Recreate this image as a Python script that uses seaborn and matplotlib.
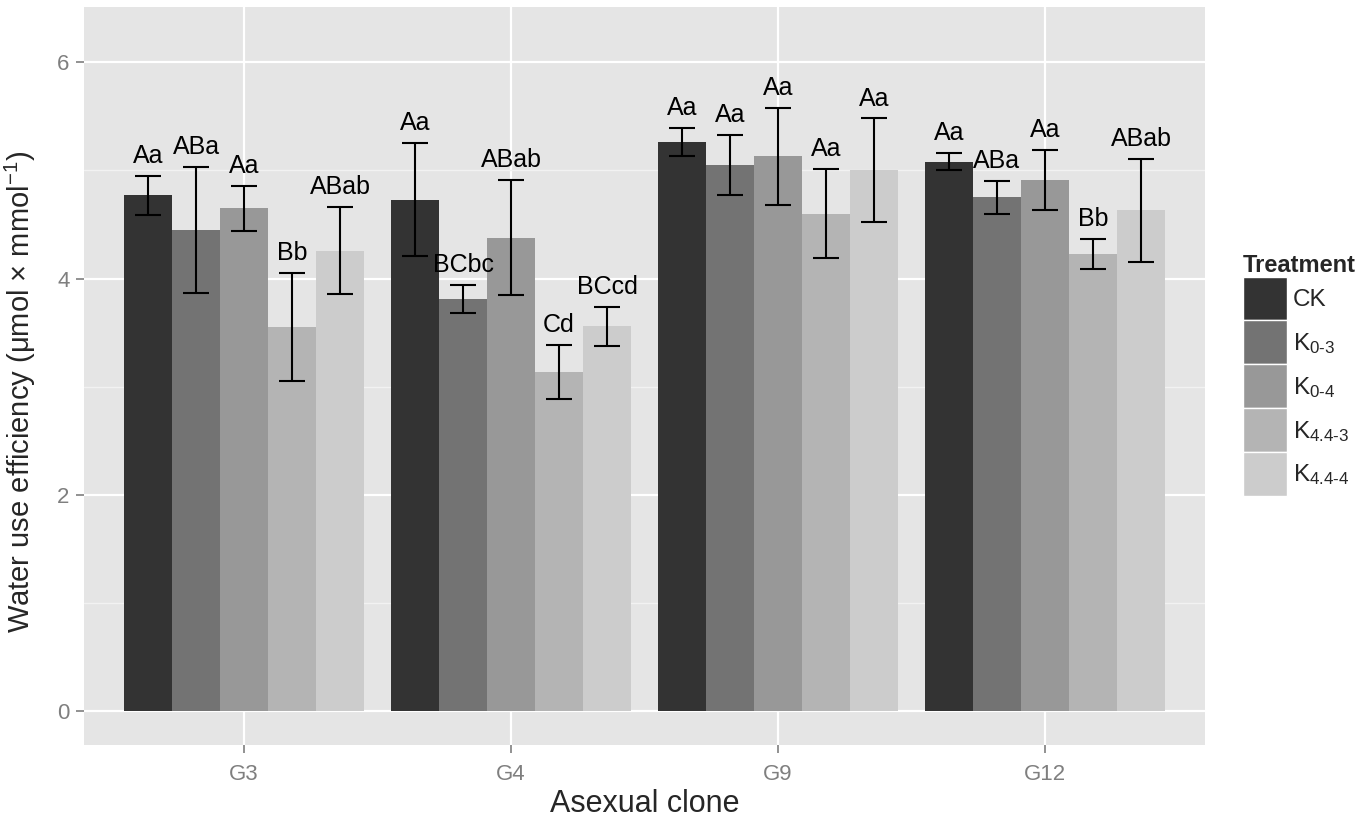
import pandas as pd
import matplotlib
matplotlib.use('Agg')
import matplotlib.pyplot as plt
import seaborn as sns
from matplotlib.patches import Patch

# --------------------------------------------------
# Data
# --------------------------------------------------
clones = ['G3', 'G4', 'G9', 'G12']
treatments = ['CK', 'K0-3', 'K0-4', 'K4.4-3', 'K4.4-4']
legend_labels = ['CK', r'K$_{\text{0-3}}$', r'K$_{\text{0-4}}$',
                 r'K$_{\text{4.4-3}}$', r'K$_{\text{4.4-4}}$']

# mean water use efficiency, one list per treatment (clone order)
wue_ck = [4.77, 4.73, 5.26, 5.08]
wue_k03 = [4.45, 3.81, 5.05, 4.75]
wue_k04 = [4.65, 4.38, 5.13, 4.91]
wue_k443 = [3.55, 3.14, 4.60, 4.23]
wue_k444 = [4.26, 3.56, 5.00, 4.63]

# error bar half-widths
se_ck = [0.18, 0.52, 0.13, 0.08]
se_k03 = [0.58, 0.13, 0.28, 0.15]
se_k04 = [0.21, 0.53, 0.45, 0.28]
se_k443 = [0.50, 0.25, 0.41, 0.14]
se_k444 = [0.40, 0.18, 0.48, 0.48]

# significance letters
let_ck = ['Aa', 'Aa', 'Aa', 'Aa']
let_k03 = ['ABa', 'BCbc', 'Aa', 'ABa']
let_k04 = ['Aa', 'ABab', 'Aa', 'Aa']
let_k443 = ['Bb', 'Cd', 'Aa', 'Bb']
let_k444 = ['ABab', 'BCcd', 'Aa', 'ABab']

colors = ['#333333', '#737373', '#989898', '#B4B4B4', '#CCCCCC']

means = [wue_ck, wue_k03, wue_k04, wue_k443, wue_k444]
errs = [se_ck, se_k03, se_k04, se_k443, se_k444]
letters = [let_ck, let_k03, let_k04, let_k443, let_k444]

rows = []
for t, m, e, l in zip(treatments, means, errs, letters):
    for c, mv, ev, lv in zip(clones, m, e, l):
        rows.append({'clone': c, 'treatment': t, 'wue': mv, 'se': ev, 'letter': lv})
df = pd.DataFrame(rows)

# --------------------------------------------------
# Style (ggplot2 grey look)
# --------------------------------------------------
sns.set_style('white')
plt.rcParams['font.family'] = ['Liberation Sans', 'DejaVu Sans']
plt.rcParams['mathtext.fontset'] = 'custom'
plt.rcParams['mathtext.rm'] = 'Liberation Sans'
plt.rcParams['mathtext.it'] = 'Liberation Sans:italic'
plt.rcParams['mathtext.bf'] = 'Liberation Sans:bold'
plt.rcParams['mathtext.default'] = 'regular'

fig = plt.figure(figsize=(13.7, 8.18), dpi=100)
ax = fig.add_axes([0.0613, 0.0892, 0.8183, 0.9022])
ax.set_facecolor('#E5E5E5')

sns.barplot(data=df, x='clone', y='wue', hue='treatment',
            order=clones, hue_order=treatments,
            palette=colors, saturation=1, width=0.9,
            errorbar=None, linewidth=0, legend=False, ax=ax)

# error bars + letters on top of every bar
for container, m, e, l in zip(ax.containers, means, errs, letters):
    xs = [b.get_x() + b.get_width() / 2 for b in container]
    ax.errorbar(xs, m, yerr=e, fmt='none', ecolor='black',
                elinewidth=1.5, capsize=9.4, capthick=1.5, zorder=4)
    for x, mv, ev, lv in zip(xs, m, e, l):
        ax.text(x, mv + ev + 0.12, lv, ha='center', va='baseline',
                fontsize=18, color='black', zorder=5)

ax.set_xlim(-0.6, 3.6)
ax.set_ylim(-0.31, 6.51)
ax.set_yticks([0, 2, 4, 6])
ax.set_yticks([1, 3, 5], minor=True)
ax.set_axisbelow(True)
ax.grid(True, which='major', color='white', linewidth=1.6)
ax.grid(True, which='minor', axis='y', color='#F2F2F2', linewidth=1.0)
ax.grid(False, which='minor', axis='x')

for s in ax.spines.values():
    s.set_visible(False)

ax.tick_params(axis='both', which='major', length=5.5, width=1.2, color='#7F7F7F',
               labelcolor='#7F7F7F', labelsize=16, direction='out',
               bottom=True, left=True)
ax.tick_params(axis='x', which='major', pad=8)
ax.tick_params(axis='y', which='major', pad=5)
ax.tick_params(axis='y', which='minor', length=0)

ax.set_xlabel('Asexual clone', fontsize=22)
ax.set_ylabel('Water use efficiency (μmol × mmol$^{-1}$)', fontsize=21)
ax.xaxis.set_label_coords(0.5, -0.0596)
ax.yaxis.set_label_coords(-0.041, 0.478)

# legend
handles = [Patch(facecolor=c, edgecolor='white', linewidth=1.0) for c in colors]
leg = fig.legend(handles, legend_labels, title='Treatment',
                 loc='upper left', bbox_to_anchor=(0.9073, 0.69),
                 frameon=False, fontsize=17.5, title_fontsize=17,
                 handlelength=1.8, handleheight=2.4, labelspacing=0,
                 handletextpad=0.25, borderpad=0, borderaxespad=0,
                 alignment='left')
leg.get_title().set_fontweight('bold')

fig.savefig('out.png', dpi=100)
